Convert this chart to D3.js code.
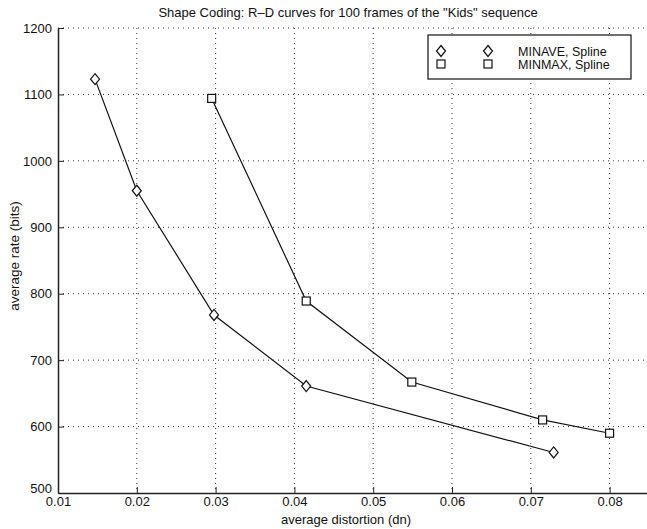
<!DOCTYPE html>
<html>
<head>
<meta charset="utf-8">
<script src="https://cdn.jsdelivr.net/npm/d3@7"></script>
<style>
	body { margin: 0; background: white; }
	svg { display: block; font-family: "Liberation Sans", Arial, sans-serif; }
</style>
</head>
<body>
<svg id="chart" width="647" height="529"></svg>
<script>
const xTicks = [0.01, 0.02, 0.03, 0.04, 0.05, 0.06, 0.07, 0.08];
const yTicks = [500, 600, 700, 800, 900, 1000, 1100, 1200];

const minaveX = [0.0147, 0.0200, 0.0298, 0.0415, 0.0729];
const minaveY = [1123, 955, 768, 661, 561];
const minmaxX = [0.0295, 0.0415, 0.0549, 0.0715, 0.0800];
const minmaxY = [1094, 789, 667, 610, 590];

const seriesNames = ["MINAVE, Spline", "MINMAX, Spline"];

const svg = d3.select("#chart");
const plotLeft = 58, plotBottom = 493, plotTop = 28;

const x = d3.scaleLinear([0.01, 0.085], [plotLeft, plotLeft + 7.5 * 78.8]);
const y = d3.scaleLinear([500, 1200], [plotBottom, plotTop]);
const line = d3.line().x((d) => x(d[0])).y((d) => y(d[1]));

// dotted grid
svg.append("g")
	.selectAll("line")
	.data(xTicks.slice(1))
	.join("line")
	.attr("x1", (d) => x(d)).attr("x2", (d) => x(d))
	.attr("y1", plotTop).attr("y2", plotBottom)
	.attr("stroke", "#333")
	.attr("stroke-width", 1)
	.attr("stroke-dasharray", "1,4");
svg.append("g")
	.selectAll("line")
	.data(yTicks.slice(1))
	.join("line")
	.attr("x1", plotLeft).attr("x2", 647)
	.attr("y1", (d) => y(d)).attr("y2", (d) => y(d))
	.attr("stroke", "#333")
	.attr("stroke-width", 1)
	.attr("stroke-dasharray", "1,4");

// axes, ticks pointing inward
const xAxis = svg.append("g")
	.attr("transform", `translate(0,${plotBottom})`)
	.call(d3.axisBottom(x).tickValues(xTicks).tickSizeInner(-6).tickSizeOuter(0).tickPadding(4)
		.tickFormat(d3.format(".2f")));
const yAxis = svg.append("g")
	.attr("transform", `translate(${plotLeft},0)`)
	.call(d3.axisLeft(y).tickValues(yTicks).tickSizeInner(-6).tickSizeOuter(0).tickPadding(6)
		.tickFormat(d3.format("d")));

[xAxis, yAxis].forEach((g) => {
	g.select(".domain").attr("stroke", "#222").attr("stroke-width", 1.5);
	g.selectAll(".tick line").attr("stroke", "#222");
	g.selectAll(".tick text")
		.attr("fill", "#111")
		.style("font-size", "13px")
		.style("font-family", "'Liberation Sans', Arial, sans-serif");
});
// the 500 label sits a touch above the corner, clear of 0.01
yAxis.selectAll(".tick text").filter((d) => d === 500).attr("dy", "-0.05em");

// series lines
const minave = minaveX.map((v, i) => [v, minaveY[i]]);
const minmax = minmaxX.map((v, i) => [v, minmaxY[i]]);

svg.append("path").datum(minave).attr("d", line)
	.attr("fill", "none").attr("stroke", "#111").attr("stroke-width", 1.2);
svg.append("path").datum(minmax).attr("d", line)
	.attr("fill", "none").attr("stroke", "#111").attr("stroke-width", 1.2);

function diamond(g, cx, cy) {
	g.append("path")
		.attr("d", `M${cx},${cy - 5.5}L${cx + 4.5},${cy}L${cx},${cy + 5.5}L${cx - 4.5},${cy}Z`)
		.attr("fill", "white").attr("stroke", "#111").attr("stroke-width", 1.2);
}
function square(g, cx, cy) {
	g.append("rect")
		.attr("x", cx - 4).attr("y", cy - 4)
		.attr("width", 8).attr("height", 8)
		.attr("fill", "white").attr("stroke", "#111").attr("stroke-width", 1.2);
}

const marks = svg.append("g");
minave.forEach((d) => diamond(marks, x(d[0]), y(d[1])));
minmax.forEach((d) => square(marks, x(d[0]), y(d[1])));

// legend
const legend = svg.append("g");
legend.append("rect")
	.attr("x", 428).attr("y", 35).attr("width", 203).attr("height", 44)
	.attr("fill", "white").attr("stroke", "#111").attr("stroke-width", 1.2);
diamond(legend, 441, 51);
diamond(legend, 488, 51);
square(legend, 441, 64);
square(legend, 488, 64);
legend.selectAll("text")
	.data(seriesNames)
	.join("text")
	.attr("x", 518)
	.attr("y", (d, i) => 55.5 + i * 13)
	.attr("fill", "#111")
	.style("font-size", "12.5px")
	.text((d) => d);

// title and labels
svg.append("text")
	.attr("x", 348).attr("y", 17)
	.attr("text-anchor", "middle")
	.attr("fill", "#111")
	.style("font-size", "13px")
	.text("Shape Coding: R\u2013D curves for 100 frames of the \"Kids\" sequence");
svg.append("text")
	.attr("x", 346).attr("y", 524)
	.attr("text-anchor", "middle")
	.attr("fill", "#111")
	.style("font-size", "13px")
	.text("average distortion (dn)");
svg.append("text")
	.attr("transform", "translate(19,256) rotate(-90)")
	.attr("text-anchor", "middle")
	.attr("fill", "#111")
	.style("font-size", "13.5px")
	.text("average rate (bits)");
</script>
</body>
</html>
